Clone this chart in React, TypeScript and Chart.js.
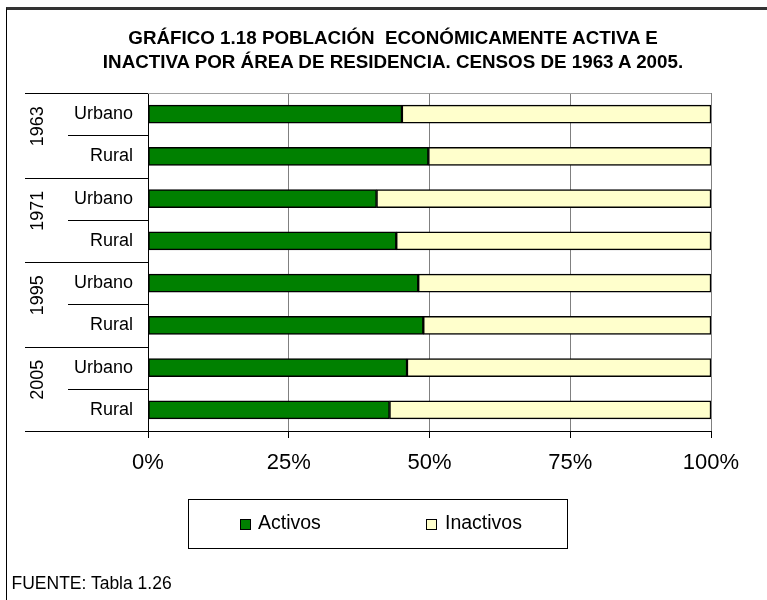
import React, { useEffect, useRef } from "react";
import { Chart, registerables } from "chart.js";

Chart.register(...registerables);

// ---- data ----
const titleLines = [
  "GRÁFICO 1.18 POBLACIÓN  ECONÓMICAMENTE ACTIVA E",
  "INACTIVA POR ÁREA DE RESIDENCIA. CENSOS DE 1963 A 2005.",
];
const years = ["1963", "1971", "1995", "2005"];
const categoryLabels = ["Urbano", "Rural", "Urbano", "Rural", "Urbano", "Rural", "Urbano", "Rural"];
const activos = [45.1, 49.8, 40.6, 44.1, 48.0, 48.9, 46.0, 42.9];
const inactivos = [54.9, 50.2, 59.4, 55.9, 52.0, 51.1, 54.0, 57.1];
const seriesNames = ["Activos", "Inactivos"];
const xTickValues = [0, 25, 50, 75, 100];
const sourceNote = "FUENTE: Tabla 1.26";

const FONT = '"Liberation Sans", Arial, Helvetica, sans-serif';
const GREEN = "#008000";
const CREAM = "#FFFFCC";

const groupPlugin = {
  id: "groupPlugin",
  afterDraw(chart: any) {
    const { ctx, chartArea } = chart;
    const y = chart.scales.y;
    const n = categoryLabels.length;
    const axisX = chartArea.left;
    const bx = (v: number) => Math.round(y.getPixelForValue(v)) + 0.5;
    ctx.save();
    ctx.lineWidth = 1;
    for (let i = 0; i <= n; i++) {
      const py = bx(i - 0.5);
      const startX = i % 2 === 0 ? 25 : 68;
      ctx.strokeStyle = "#000";
      ctx.beginPath();
      ctx.moveTo(startX, py);
      ctx.lineTo(axisX, py);
      ctx.stroke();
      if (i === 0) {
        ctx.strokeStyle = "#a0a0a0";
        ctx.beginPath();
        ctx.moveTo(axisX, py);
        ctx.lineTo(chartArea.right, py);
        ctx.stroke();
      }
    }
    // year labels (rotated)
    ctx.fillStyle = "#000";
    ctx.font = `18px ${FONT}`;
    ctx.textAlign = "center";
    ctx.textBaseline = "middle";
    years.forEach((yr, g) => {
      const top = y.getPixelForValue(2 * g - 0.5);
      const bot = y.getPixelForValue(2 * g + 1.5);
      const cy = (top + bot) / 2 - 9;
      ctx.save();
      ctx.translate(38, cy);
      ctx.rotate(-Math.PI / 2);
      ctx.fillText(yr, 0, 0);
      ctx.restore();
    });
    ctx.restore();
  },
};

export default function App() {
  const ref = useRef<HTMLCanvasElement | null>(null);

  useEffect(() => {
    if (!ref.current) return;
    const chart = new Chart(ref.current, {
      type: "bar",
      data: {
        labels: categoryLabels,
        datasets: [
          {
            label: seriesNames[0],
            data: activos,
            backgroundColor: GREEN,
            borderColor: "#000",
            borderWidth: 1.5,
            borderSkipped: false,
            barThickness: 18,
          },
          {
            label: seriesNames[1],
            data: inactivos,
            backgroundColor: CREAM,
            borderColor: "#000",
            borderWidth: 1.5,
            borderSkipped: false,
            barThickness: 18,
          },
        ],
      },
      options: {
        indexAxis: "y",
        responsive: false,
        animation: false,
        events: [],
        layout: { padding: { left: 0, top: 93, right: 56, bottom: 109 } },
        plugins: {
          legend: { display: false },
          title: { display: false },
          tooltip: { enabled: false },
        },
        scales: {
          x: {
            stacked: true,
            min: 0,
            max: 100,
            afterBuildTicks: (s: any) => {
              s.ticks = xTickValues.map((v) => ({ value: v }));
            },
            afterFit: (s: any) => {
              s.height = 60;
            },
            ticks: {
              callback: (v: any) => `${v}%`,
              font: { family: FONT, size: 22 },
              color: "#000",
              padding: 12,
              maxRotation: 0,
            },
            grid: {
              color: "#808080",
              lineWidth: 1,
              tickLength: 7,
              tickColor: "#000",
              drawTicks: true,
            },
            border: { display: true, color: "#000", width: 1 },
          },
          y: {
            stacked: true,
            afterFit: (s: any) => {
              s.width = 148;
            },
            ticks: {
              font: { family: FONT, size: 18 },
              color: "#000",
              padding: 15,
            },
            grid: { display: false, drawTicks: false },
            border: { display: true, color: "#000", width: 1 },
          },
        },
      },
      plugins: [groupPlugin],
    });
    return () => chart.destroy();
  }, []);

  return (
    <div
      style={{
        position: "absolute",
        left: 0,
        top: 0,
        width: 767,
        height: 600,
        overflow: "hidden",
        background: "#fff",
        fontFamily: FONT,
        color: "#000",
      }}
    >
      {/* frame */}
      <div
        style={{
          position: "absolute",
          left: 6,
          top: 7,
          width: 900,
          height: 800,
          borderTop: "3px solid #333",
          borderLeft: "1.5px solid #000",
        }}
      />
      <canvas
        ref={ref}
        width={767}
        height={600}
        style={{ position: "absolute", left: 0, top: 0, width: 767, height: 600 }}
      />
      {/* title */}
      <div
        style={{
          position: "absolute",
          left: 0,
          top: 26,
          width: 786,
          textAlign: "center",
          fontWeight: "bold",
          fontSize: 18.8,
          lineHeight: "24px",
          whiteSpace: "pre",
        }}
      >
        {titleLines.map((t, i) => (
          <div key={i}>{t}</div>
        ))}
      </div>
      {/* legend */}
      <div
        style={{
          position: "absolute",
          left: 188,
          top: 499,
          width: 380,
          height: 50,
          boxSizing: "border-box",
          border: "1px solid #000",
        }}
      />
      {[
        { name: seriesNames[0], color: GREEN, sq: 240, tx: 258 },
        { name: seriesNames[1], color: CREAM, sq: 426, tx: 445 },
      ].map((it) => (
        <React.Fragment key={it.name}>
          <div
            style={{
              position: "absolute",
              left: it.sq,
              top: 519,
              width: 11,
              height: 11,
              boxSizing: "border-box",
              border: "1px solid #000",
              background: it.color,
            }}
          />
          <div
            style={{
              position: "absolute",
              left: it.tx,
              top: 511.5,
              fontSize: 19.5,
              lineHeight: "20px",
              whiteSpace: "pre",
            }}
          >
            {it.name}
          </div>
        </React.Fragment>
      ))}
      {/* source */}
      <div
        style={{
          position: "absolute",
          left: 11.5,
          top: 574,
          fontSize: 17.5,
          lineHeight: "19px",
          whiteSpace: "pre",
        }}
      >
        {sourceNote}
      </div>
    </div>
  );
}
